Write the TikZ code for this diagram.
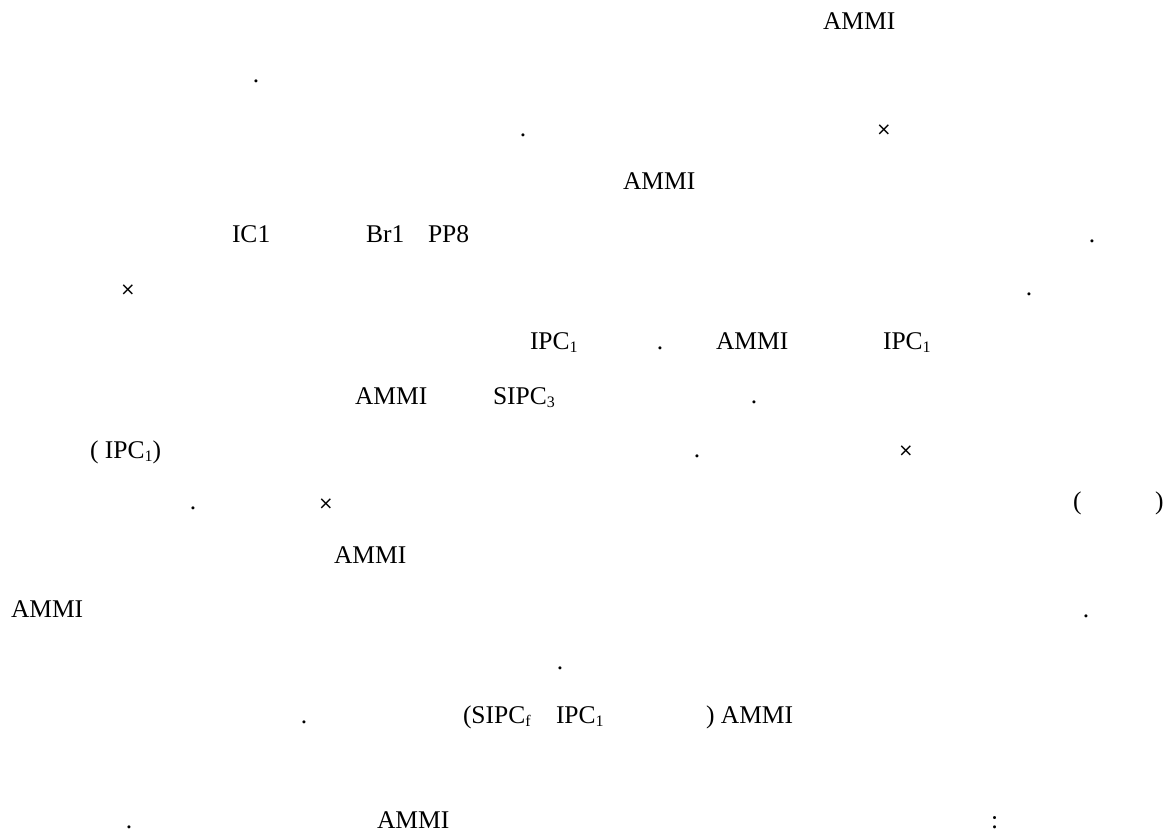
\documentclass[tikz,border=0pt]{standalone}
\usepackage{fontspec}
\setmainfont{Liberation Serif}
\newfontfamily\mulfont{DejaVu Sans}
\newcommand\mysub[1]{\raisebox{-3.5pt}{\fontsize{16}{16}\selectfont #1}}
\tikzset{
  txt/.style={anchor=base west, inner sep=0pt, outer sep=0pt, font=\fontsize{25.5}{30}\selectfont},
  pt/.style={anchor=base, inner sep=0pt, outer sep=0pt, font=\fontsize{25.5}{30}\selectfont},
  mul/.style={anchor=base, inner sep=0pt, outer sep=0pt, font=\mulfont\fontsize{18}{22}\selectfont},
}
\begin{document}
\begin{tikzpicture}[x=1pt,y=-1pt]
\useasboundingbox[fill=white] (0,0) rectangle (1165,834);
% row 1
\node[txt] (a1) at (823,30) {AMMI};
% row 2
\node[pt] (d2) at (256,83) {.};
% row 3
\node[pt] (d3) at (523,137) {.};
\node[mul] (m3) at (884,136) {×};
% row 4
\node[txt] (a4) at (623,190) {AMMI};
% row 5
\node[txt] (ic1) at (232,243) {IC1};
\node[txt] (br1) at (366,243) {Br1};
\node[txt] (pp8) at (428,243) {PP8};
\node[pt] (d5) at (1092,243) {.};
% row 6
\node[mul] (m6) at (128,296) {×};
\node[pt] (d6) at (1029,296) {.};
% row 7
\node[txt] (ipc7a) at (530,349) {IPC\mysub{1}};
\node[pt] (d7) at (660,349) {.};
\node[txt] (a7) at (716,349) {AMMI};
\node[txt] (ipc7b) at (883,349) {IPC\mysub{1}};
% row 8
\node[txt] (a8) at (355,404) {AMMI};
\node[txt] (sipc8) at (493,404) {SIPC\mysub{3}};
\node[pt] (d8) at (754,403) {.};
% row 9
\node[txt] (ipc9) at (90,458) {( IPC\mysub{1})};
\node[pt] (d9) at (697,457) {.};
\node[mul] (m9) at (906,456) {×};
% row 10
\node[pt] (d10) at (193,509) {.};
\node[mul] (m10) at (326,509) {×};
\node[txt] (pl10) at (1073,509) {(};
\node[txt] (pr10) at (1155,509) {)};
% row 11
\node[txt] (a11) at (334,563) {AMMI};
% row 12
\node[txt] (a12) at (11,617) {AMMI};
\node[pt] (d12) at (1086,617) {.};
% row 12b
\node[pt] (d12b) at (560,669) {.};
% row 13
\node[pt] (d13) at (304,723) {.};
\node[txt] (sipc13) at (463,723) {(SIPC\mysub{f}};
\node[txt] (ipc13) at (556,723) {IPC\mysub{1}};
\node[txt] (a13) at (706,723) {) AMMI};
% row 14
\node[pt] (d14) at (129,828) {.};
\node[txt] (a14) at (377,828) {AMMI};
\node[txt] (c14) at (991,828) {:};
\end{tikzpicture}
\end{document}
